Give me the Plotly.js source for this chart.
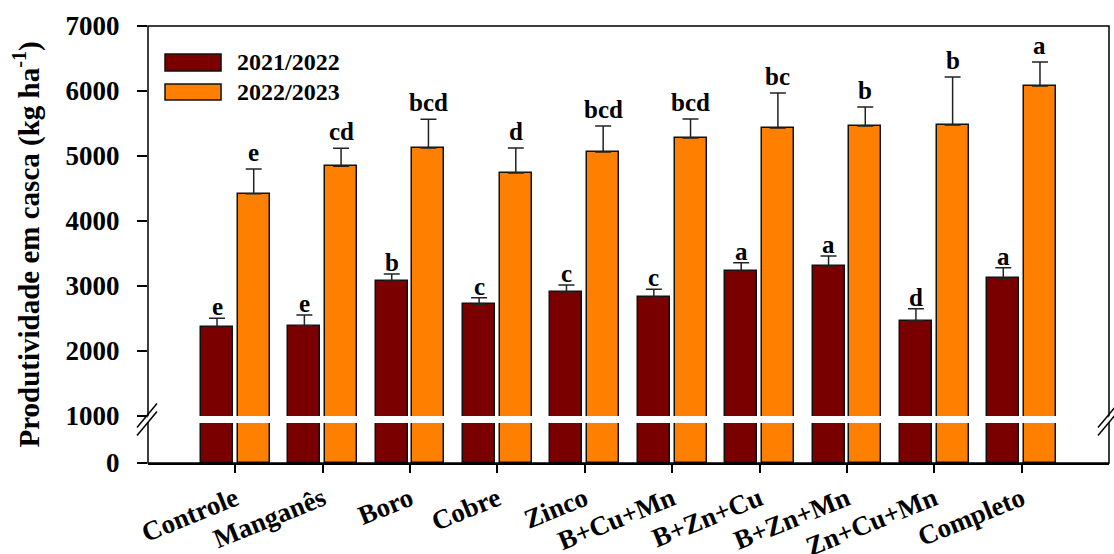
<!DOCTYPE html>
<html>
<head>
<meta charset="utf-8">
<script src="https://cdn.plot.ly/plotly-3.0.1.min.js"></script>
</head>
<body style="margin:0">
<div id="chart"></div>
<script>
// ---- data ----
const categories = ["Controle", "Manganês", "Boro", "Cobre", "Zinco", "B+Cu+Mn", "B+Zn+Cu", "B+Zn+Mn", "Zn+Cu+Mn", "Completo"];
const seriesNames = ["2021/2022", "2022/2023"];
const yield2122 = [2364, 2389, 3077, 2718, 2908, 2826, 3226, 3308, 2466, 3118];
const err2122 = [140, 165, 108, 100, 108, 123, 130, 154, 185, 164];
const yield2223 = [4420, 4841, 5123, 4738, 5062, 5277, 5431, 5462, 5477, 6077];
const err2223 = [380, 277, 442, 385, 400, 292, 538, 292, 738, 369];
const letters2122 = ["e", "e", "b", "c", "c", "c", "a", "a", "d", "a"];
const letters2223 = ["e", "cd", "bcd", "d", "bcd", "bcd", "bc", "b", "b", "a"];
const yTicks = [1000, 2000, 3000, 4000, 5000, 6000, 7000];

// ---- styling ----
const FONT = "Times New Roman";
const colDark = "#7a0000";
const colOrange = "#ff8000";
const xs = categories.map((_, i) => i);
const W = 0.366, OFF_D = -0.393, OFF_O = 0.027;

function barTrace(vals, errs, color, off, yax, withErr) {
  const t = {
    type: "bar", x: xs, y: vals, width: W, offset: off,
    xaxis: "x", yaxis: yax, showlegend: false, hoverinfo: "skip",
    marker: {color: color, line: {color: "#111", width: 1.5}}
  };
  if (withErr) {
    t.error_y = {type: "data", symmetric: false, array: errs, arrayminus: errs.map(() => 0),
      color: "#222", thickness: 1.5, width: 8};
  }
  return t;
}

const data = [
  barTrace(yield2122, err2122, colDark, OFF_D, "y", false),
  barTrace(yield2223, err2223, colOrange, OFF_O, "y", false),
  barTrace(yield2122, err2122, colDark, OFF_D, "y2", true),
  barTrace(yield2223, err2223, colOrange, OFF_O, "y2", true)
];

const annotations = [];
xs.forEach(i => {
  annotations.push({x: i + OFF_D + W / 2, y: yield2122[i] + err2122[i], xref: "x", yref: "y2",
    text: "<b>" + letters2122[i] + "</b>", showarrow: false, yanchor: "bottom", yshift: -4,
    font: {family: FONT, size: 25, color: "#000"}});
  annotations.push({x: i + OFF_O + W / 2, y: yield2223[i] + err2223[i], xref: "x", yref: "y2",
    text: "<b>" + letters2223[i] + "</b>", showarrow: false, yanchor: "bottom", yshift: 1,
    font: {family: FONT, size: 25, color: "#000"}});
});
annotations.push({xref: "paper", yref: "paper", x: 0, y: 0.5, xshift: -121, textangle: -90,
  text: "<b>Produtividade em casca (kg ha<sup>-1</sup>)</b>", showarrow: false,
  xanchor: "center", yanchor: "middle",
  font: {family: FONT, size: 29, color: "#000"}});
const legY = [0.9165, 0.849];
seriesNames.forEach((n, k) => {
  annotations.push({xref: "paper", yref: "paper", x: 0.0905, y: legY[k], text: "<b>" + n + "</b>", showarrow: false,
    xanchor: "left", yanchor: "middle", font: {family: FONT, size: 24, color: "#000"}});
});

const shapes = [
  {type: "rect", xref: "paper", yref: "paper", x0: 0, x1: 1, y0: 0, y1: 1, line: {color: "#000", width: 1.5}, layer: "above"},
  {type: "rect", xref: "paper", yref: "paper", x0: 0.0177, x1: 0.076, y0: 0.897, y1: 0.936, fillcolor: colDark, line: {color: "#111", width: 1.5}},
  {type: "rect", xref: "paper", yref: "paper", x0: 0.0177, x1: 0.076, y0: 0.8307, y1: 0.867, fillcolor: colOrange, line: {color: "#111", width: 1.5}}
];
const breakY = 0.0995;
[0, 1].forEach(xa => {
  shapes.push({type: "path", xref: "paper", yref: "paper", xsizemode: "pixel", ysizemode: "pixel",
    xanchor: xa, yanchor: breakY, path: "M-11,-16 L9,8 L11,16 L-9,-8 Z",
    fillcolor: "#fff", line: {width: 0}, layer: "above"});
  [-4, 4].forEach(d => {
    shapes.push({type: "line", xref: "paper", yref: "paper", xsizemode: "pixel", ysizemode: "pixel",
      xanchor: xa, yanchor: breakY, x0: -11, x1: 9, y0: -12 + d, y1: 12 + d,
      line: {color: "#000", width: 1.5}, layer: "above"});
  });
});

const tf = {family: FONT, size: 27, color: "#000"};
const layout = {
  width: 1114, height: 554,
  margin: {l: 148, r: 5, t: 26, b: 91},
  paper_bgcolor: "#fff", plot_bgcolor: "rgba(0,0,0,0)",
  showlegend: false,
  font: {family: FONT, color: "#000"},
  xaxis: {
    range: [-1, 10], tickvals: xs, ticktext: categories.map(c => "<b>" + c + "</b>"), tickangle: -22,
    ticks: "outside", ticklen: 8, tickwidth: 1.5, tickcolor: "#000",
    showline: true, linecolor: "#000", linewidth: 1.5, showgrid: false, zeroline: false,
    tickfont: {family: FONT, size: 27, color: "#000"}, anchor: "y", fixedrange: true
  },
  yaxis: {
    domain: [0, 0.0915], range: [0, 850], tickvals: [0], ticktext: ["<b>0</b>"],
    ticks: "outside", ticklen: 10, tickwidth: 1.5, tickcolor: "#000",
    showline: false, showgrid: false, zeroline: false, ticklabelstandoff: 12,
    tickfont: tf, anchor: "x", fixedrange: true
  },
  yaxis2: {
    domain: [0.1076, 1], range: [1000, 7000], tickvals: yTicks, ticktext: yTicks.map(v => "<b>" + v + "</b>"),
    ticks: "outside", ticklen: 10, tickwidth: 1.5, tickcolor: "#000",
    showline: false, showgrid: false, zeroline: false, ticklabelstandoff: 12,
    tickfont: tf, anchor: "x", fixedrange: true
  },
  bargap: 0, barmode: "overlay",
  annotations: annotations,
  shapes: shapes
};

Plotly.newPlot("chart", data, layout, {displayModeBar: false});
</script>
</body>
</html>
